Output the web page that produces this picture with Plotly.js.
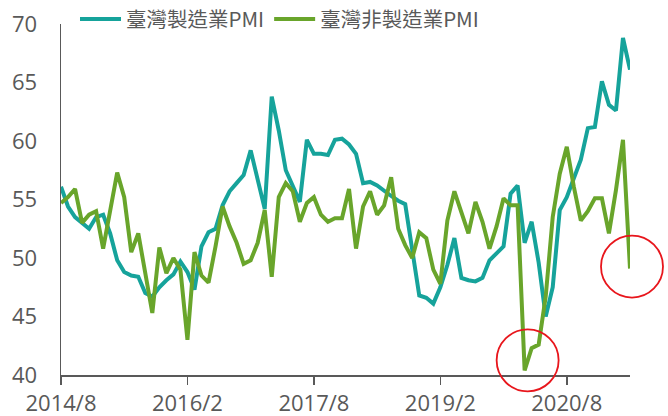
<!DOCTYPE html>
<html>
<head>
<meta charset="utf-8">
<script src="https://cdn.plot.ly/plotly-3.0.1.min.js"></script>
<style>html,body{margin:0;padding:0;background:#fff;}#chart{width:668px;height:416px;}</style>
</head>
<body>
<div id="chart"></div>
<script>
// Month categories: 2014/8 .. 2021/5
var startYear = 2014, startMonth = 8, monthCount = 82;
var months = [];
for (var k = 0; k < monthCount; k++) {
  var m = startMonth - 1 + k;
  months.push((startYear + Math.floor(m / 12)) + '/' + (m % 12 + 1));
}

var tickLabels = ['2014/8', '2016/2', '2017/8', '2019/2', '2020/8'];
var yTicks = [40, 45, 50, 55, 60, 65, 70];

var seriesNames = ['臺灣製造業PMI', '臺灣非製造業PMI'];

// 臺灣製造業PMI
var manufacturing = [
  56.1, 54.4, 53.5, 53.0, 52.5, 53.5, 53.7, 52.1, 49.8, 48.8,
  48.5, 48.4, 47.0, 46.7, 47.5, 48.1, 48.6, 49.7, 48.8, 47.3,
  51.0, 52.2, 52.5, 54.5, 55.7, 56.4, 57.1, 59.2, 56.7, 54.2,
  63.8, 60.9, 57.5, 56.2, 54.8, 60.1, 58.9, 58.9, 58.8, 60.1,
  60.2, 59.7, 58.9, 56.4, 56.5, 56.2, 55.7, 55.3, 54.9, 54.6,
  50.7, 46.8, 46.6, 46.1, 47.5, 49.4, 51.7, 48.3, 48.1, 48.0,
  48.3, 49.8, 50.4, 51.0, 55.5, 56.2, 51.3, 53.1, 49.6, 45.0,
  47.5, 54.1, 55.2, 56.7, 58.4, 61.1, 61.2, 65.1, 63.1, 62.6,
  68.8, 66.1
];

// 臺灣非製造業PMI
var nonManufacturing = [
  54.7, 55.2, 55.9, 53.0, 53.7, 54.0, 50.8, 54.0, 57.3, 55.2,
  50.5, 52.1, 48.7, 45.3, 50.9, 48.7, 50.0, 49.0, 43.0, 50.5,
  48.5, 47.9, 51.0, 54.4, 52.7, 51.3, 49.5, 49.8, 51.3, 54.1,
  48.4, 55.2, 56.4, 55.7, 53.1, 54.7, 55.2, 53.7, 53.1, 53.4,
  53.4, 55.9, 50.8, 54.4, 55.7, 53.7, 54.5, 56.9, 52.5, 51.1,
  50.0, 52.2, 51.7, 49.0, 47.8, 53.2, 55.7, 54.0, 52.1, 54.8,
  53.1, 50.8, 52.7, 55.1, 54.5, 54.5, 40.4, 42.3, 42.6, 46.7,
  53.5, 57.2, 59.5, 56.1, 53.2, 54.0, 55.1, 55.1, 52.1, 55.8,
  60.1, 49.1
];

// highlighted points (indices into months)
var highlighted = [66, 81];

var colors = ['#16a39b', '#69a52b'];
var yMin = 40, yMax = 70;

var traces = [
  {x: months, y: manufacturing, name: seriesNames[0], type: 'scatter', mode: 'lines',
   line: {color: colors[0], width: 4}},
  {x: months, y: nonManufacturing, name: seriesNames[1], type: 'scatter', mode: 'lines',
   line: {color: colors[1], width: 4}}
];

var offsets = [[3, 10], [2, 2]];
var shapes = highlighted.map(function (idx, j) {
  var px = idx / (monthCount - 1);
  var py = (nonManufacturing[idx] - yMin) / (yMax - yMin);
  var r = 31;
  return {type: 'circle', xref: 'paper', yref: 'paper', xsizemode: 'pixel', ysizemode: 'pixel',
    xanchor: px, yanchor: py,
    x0: offsets[j][0] - r, x1: offsets[j][0] + r, y0: offsets[j][1] - r, y1: offsets[j][1] + r,
    line: {color: '#e8161c', width: 1.8}, fillcolor: 'rgba(0,0,0,0)', layer: 'above'};
});

var layout = {
  width: 668, height: 416,
  margin: {l: 61, r: 38, t: 24, b: 41, autoexpand: false},
  paper_bgcolor: '#ffffff', plot_bgcolor: '#ffffff',
  showlegend: true,
  legend: {orientation: 'h', x: 0.0246, xanchor: 'left', y: 1.014, yanchor: 'middle',
    font: {family: '"Noto Sans CJK TC", sans-serif', size: 20.5, color: '#595959'},
    itemwidth: 41, bgcolor: 'rgba(0,0,0,0)', traceorder: 'normal'},
  xaxis: {type: 'category', range: [0, monthCount - 1], showgrid: false, zeroline: false,
    showline: true, linecolor: '#595959', linewidth: 1.5,
    ticks: 'outside', ticklen: 8, tickwidth: 1.5, tickcolor: '#595959',
    tickmode: 'array', tickvals: tickLabels, ticktext: tickLabels,
    tickfont: {family: '"Open Sans", sans-serif', size: 22, color: '#595959'}},
  yaxis: {range: [yMin, yMax], showgrid: false, zeroline: false,
    showline: true, linecolor: '#595959', linewidth: 1.5, ticks: '',
    tickmode: 'array', tickvals: yTicks, ticklabelstandoff: 18,
    tickfont: {family: '"Open Sans", sans-serif', size: 22, color: '#595959'}},
  shapes: shapes
};

Plotly.newPlot('chart', traces, layout, {displayModeBar: false, staticPlot: true});
</script>
</body>
</html>
